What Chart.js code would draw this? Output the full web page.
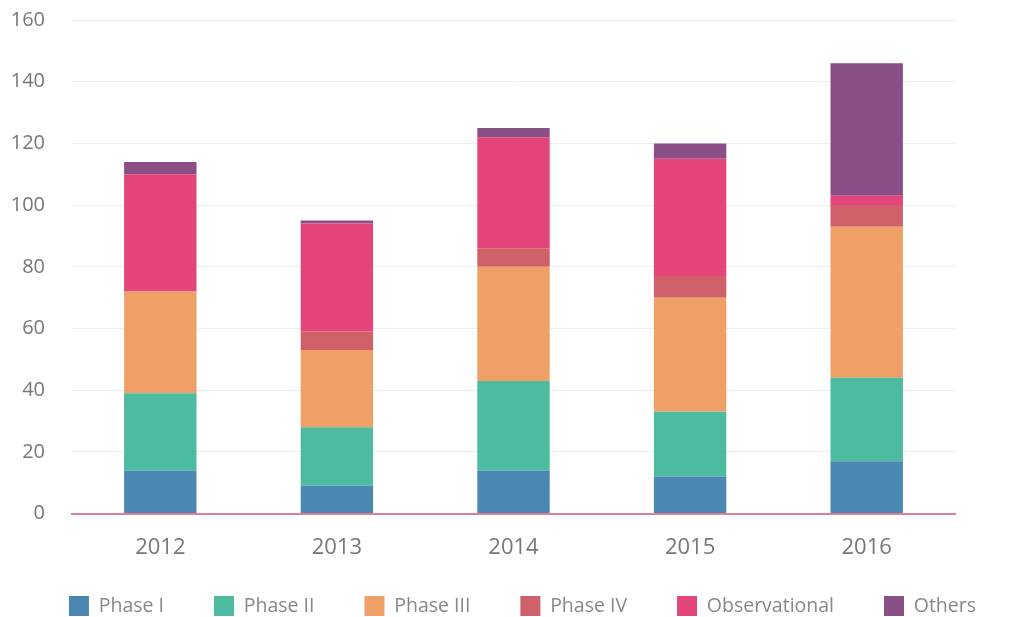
<!DOCTYPE html>
<html>
<head>
<meta charset="utf-8">
<script src="https://cdn.jsdelivr.net/npm/chart.js@4"></script>
<style>
  body { margin: 0; background: #fff; }
  #wrap { width: 1035px; height: 617px; }
</style>
</head>
<body>
<div id="wrap"><canvas id="grafico"></canvas></div>
<script>
const years = ['2012', '2013', '2014', '2015', '2016'];
const phase1 = [14, 9, 14, 12, 17];
const phase2 = [25, 19, 29, 21, 27];
const phase3 = [33, 25, 37, 37, 49];
const phase4 = [0, 6, 6, 7, 7];
const observational = [38, 35, 36, 38, 3];
const others = [4, 1, 3, 5, 43];
const yTicks = [0, 20, 40, 60, 80, 100, 120, 140, 160];

// move the legend row up, closer to the year labels
const legendShift = {
    id: 'legendShift',
    afterLayout(chart) {
        chart.legend.top -= 36;
        chart.legend.bottom -= 36;
    }
};

const ctx = document.getElementById('grafico');
new Chart(ctx, {
    type: 'bar',
    data: {
        labels: years,
        datasets: [
            { label: 'Phase I', data: phase1, backgroundColor: '#4a88b1' },
            { label: 'Phase II', data: phase2, backgroundColor: '#4cbba0' },
            { label: 'Phase III', data: phase3, backgroundColor: '#efa066' },
            { label: 'Phase IV', data: phase4, backgroundColor: '#cf5f69' },
            { label: 'Observational', data: observational, backgroundColor: '#e4457a' },
            { label: 'Others', data: others, backgroundColor: '#8a4f86' }
        ]
    },
    plugins: [legendShift],
    options: {
        responsive: true,
        maintainAspectRatio: false,
        animation: false,
        barPercentage: 0.41,
        categoryPercentage: 1,
        layout: {
            autoPadding: false,
            padding: { top: 20, right: 0, left: 10, bottom: -45 }
        },
        plugins: {
            tooltip: { enabled: false },
            legend: {
                position: 'bottom',
                labels: {
                    boxWidth: 20,
                    boxHeight: 20,
                    padding: 50,
                    color: '#888',
                    font: { family: 'Open Sans', size: 19.5 }
                }
            }
        },
        scales: {
            x: {
                stacked: true,
                grid: { display: false, drawTicks: false },
                border: { color: '#e07d96', width: 2 },
                ticks: {
                    color: '#777',
                    padding: 21,
                    font: { family: 'Open Sans', size: 22 }
                }
            },
            y: {
                stacked: true,
                min: 0,
                max: 160,
                afterBuildTicks: (axis) => { axis.ticks = yTicks.map(v => ({ value: v })); },
                afterFit: (scale) => {
                    scale.width = 62;
                    scale.paddingTop = 0;
                    scale.paddingBottom = 0;
                },
                grid: { color: '#eeeeee', drawTicks: false },
                border: { display: false },
                ticks: {
                    color: '#777',
                    padding: 27,
                    font: { family: 'Open Sans', size: 20 }
                }
            },
            yRight: {
                position: 'right',
                display: true,
                grid: { display: false, drawTicks: false },
                border: { display: false },
                ticks: { display: false },
                afterFit: (scale) => { scale.width = 80; }
            }
        }
    }
});
</script>
</body>
</html>
